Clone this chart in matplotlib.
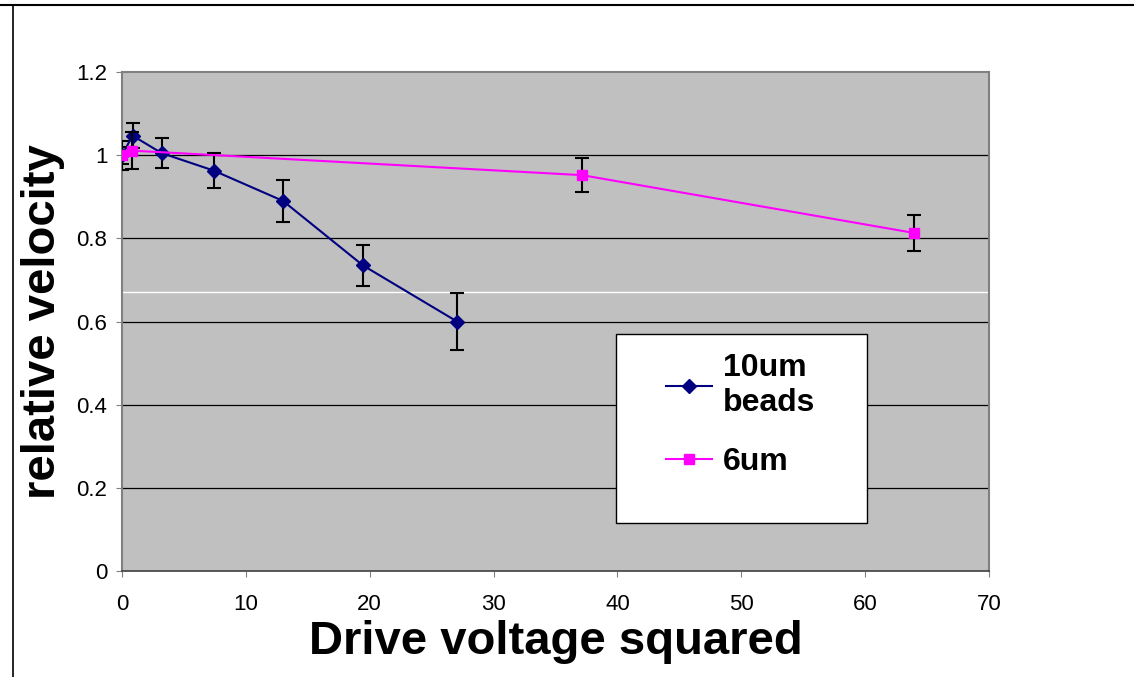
import numpy as np
import matplotlib
matplotlib.use('Agg')
import matplotlib.pyplot as plt
from matplotlib.lines import Line2D
from matplotlib.patches import Rectangle

plt.rcParams['font.family'] = ['Liberation Sans', 'DejaVu Sans']

# 10um beads
x_10 = [0, 0.85, 3.2, 7.4, 13.0, 19.45, 27.05]
y_10 = [1.0, 1.047, 1.005, 0.963, 0.89, 0.735, 0.6]
err_10 = [0.035, 0.03, 0.037, 0.043, 0.05, 0.049, 0.069]

# 6um
x_6 = [0, 0.8, 37.15, 63.95]
y_6 = [1.0, 1.011, 0.952, 0.813]
err_6 = [0.02, 0.045, 0.041, 0.043]

legend_labels = ['10um\nbeads', '6um']
yticks = [0, 0.2, 0.4, 0.6, 0.8, 1, 1.2]
ytick_labels = ['0', '0.2', '0.4', '0.6', '0.8', '1', '1.2']

navy = '#000080'
magenta = '#FF00FF'

fig = plt.figure(figsize=(11.34, 6.77), dpi=100)
ax = fig.add_axes([0.1076, 0.1566, 0.7645, 0.737])
ax.set_facecolor('#C0C0C0')

for y in yticks[1:-1]:
    ax.axhline(y, color='black', lw=0.9, zorder=1)
ax.axhline(0.671, color='white', lw=1.0, zorder=1)

ax.errorbar(x_10, y_10, yerr=err_10, color=navy, marker='D', ms=7,
            lw=1.5, ecolor='black', elinewidth=1.5, capsize=4.8, capthick=1.5,
            zorder=3)
ax.errorbar(x_6, y_6, yerr=err_6, color=magenta, marker='s', ms=7.2,
            lw=1.5, ecolor='black', elinewidth=1.5, capsize=4.8, capthick=1.5,
            zorder=4)

ax.set_xlim(0, 70)
ax.set_ylim(0, 1.2)
ax.set_xticks(np.arange(0, 71, 10))
ax.set_yticks(yticks)
ax.set_yticklabels(ytick_labels)
ax.tick_params(labelsize=16, direction='out', length=4.5, color='#808080')
ax.tick_params(axis='x', pad=12)
ax.tick_params(axis='y', pad=6)

for s in ['top', 'right', 'left']:
    ax.spines[s].set_color('#808080')
    ax.spines[s].set_linewidth(1.5)
ax.spines['bottom'].set_color('#404040')
ax.spines['bottom'].set_linewidth(1.2)

ax.set_xlabel('Drive voltage squared', fontsize=34, fontweight='bold', labelpad=4)
ax.set_ylabel('relative velocity', fontsize=34, fontweight='bold', labelpad=8)

# legend box
ax.add_patch(Rectangle((0.5698, 0.0962), 0.2895, 0.3787, transform=ax.transAxes,
                       facecolor='white', edgecolor='black', lw=1.0, zorder=5))
handles = [Line2D([], [], color=navy, marker='D', ms=7, lw=1.5),
           Line2D([], [], color=magenta, marker='s', ms=7.2, lw=1.5)]
leg = ax.legend(handles, legend_labels, loc='upper left',
                bbox_to_anchor=(0.627, 0.436), frameon=False,
                prop={'weight': 'bold', 'size': 23}, borderpad=0,
                borderaxespad=0, labelspacing=0.9, handlelength=1.45,
                handletextpad=0.35)
leg.set_zorder(6)

# outer frame lines
fig.add_artist(Line2D([0, 1], [0.9926, 0.9926], color='black', lw=1.5))
fig.add_artist(Line2D([0.0115, 0.0115], [0, 0.9926], color='black', lw=1.2))

fig.savefig('out.png', dpi=100)
